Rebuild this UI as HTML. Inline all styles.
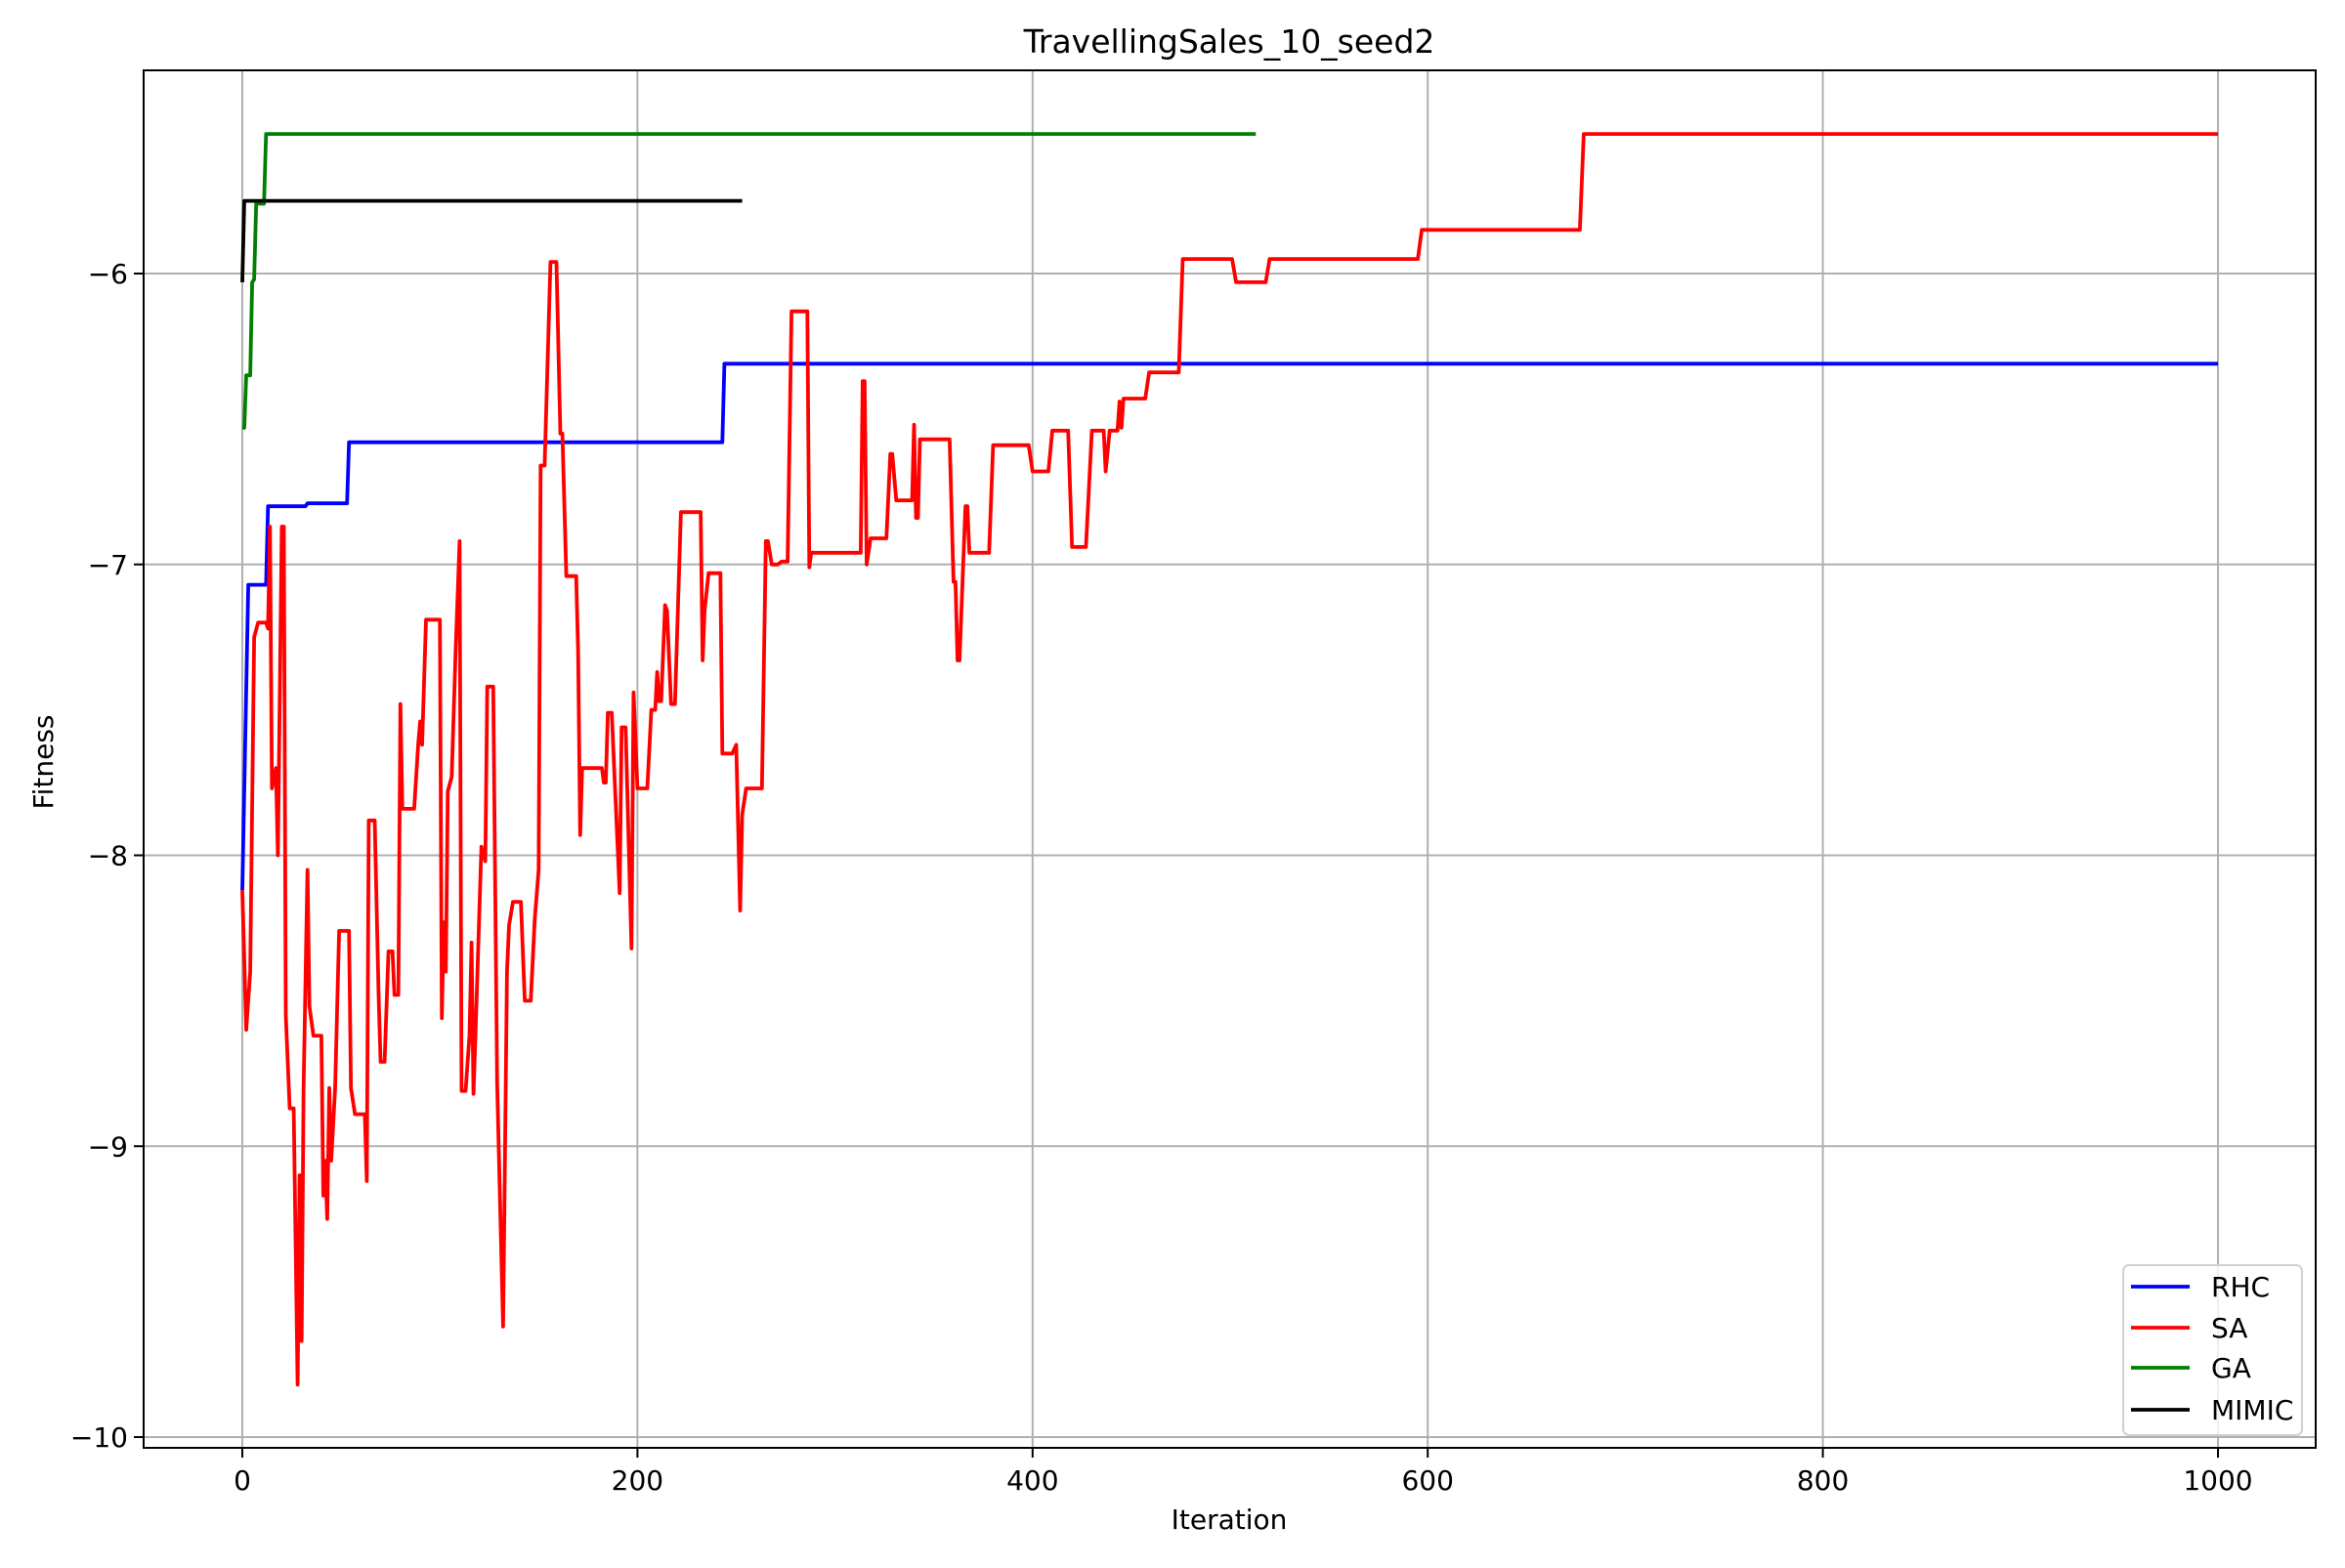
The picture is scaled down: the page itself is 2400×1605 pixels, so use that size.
<!DOCTYPE html>
<html><head><meta charset="utf-8"><style>
html,body{margin:0;padding:0;background:#fff}
svg text{font-family:"DejaVu Sans","Liberation Sans",sans-serif;fill:#000}
</style></head><body>
<svg id="chart" width="2400" height="1600" viewBox="0 0 2400 1600" xmlns="http://www.w3.org/2000/svg">
<rect width="2400" height="1600" fill="#fff"/>
<g id="grid"></g>
<g id="series"></g>
<g id="axes"></g>
<text x="1258" y="54" font-size="33" text-anchor="middle">TravellingSales_10_seed2</text>
<text x="1258" y="1565" font-size="28" text-anchor="middle">Iteration</text>
<text transform="translate(54,780) rotate(-90)" font-size="28" text-anchor="middle">Fitness</text>
<g id="legend"></g>
</svg>
<script>
const xTicks=[0,200,400,600,800,1000];
const yTicks=[-10,-9,-8,-7,-6];
const yTickLabels=["\u221210","\u22129","\u22128","\u22127","\u22126"];
const seriesNames=["RHC","SA","GA","MIMIC"];
const seriesColors=["#0000ff","#ff0000","#008000","#000000"];
const rhcIter=[0,3,12,13,32,33,53,54,243,244,1000];
const rhcVal=[-8.12,-7.07,-7.07,-6.80,-6.80,-6.79,-6.79,-6.58,-6.58,-6.31,-6.31];
const gaIter=[0,1,2,4,5,6,7,11,12,513];
const gaVal=[-6.53,-6.53,-6.35,-6.35,-6.03,-6.02,-5.76,-5.76,-5.52,-5.52];
const mimicIter=[0,1,253];
const mimicVal=[-6.03,-5.75,-5.75];
const saIter=[0,2,4,6,8,12,13,14,15,17,18,20,21,22,24,26,28,29,30,31,33,34,36,40,41,42,43,44,45,47,49,54,55,57,62,63,64,67,69,70,72,74,76,77,79,80,81,87,89,90,91,93,100,101,102,103,104,106,108,110,111,113,115,116,117,118,121,123,124,127,129,132,134,135,137,141,143,146,148,150,151,153,156,159,161,162,164,169,170,171,172,182,183,184,185,187,191,192,194,197,198,200,205,207,209,210,211,212,214,215,217,219,222,232,233,234,236,242,243,248,250,252,253,255,263,265,266,268,271,273,276,278,286,287,288,313,314,315,316,318,326,328,329,331,339,340,341,342,343,358,360,361,362,363,366,367,368,378,380,398,400,408,410,418,420,427,430,436,437,439,443,444,445,446,457,459,474,476,501,503,518,520,595,597,677,679,1000];
const saVal=[-8.12,-8.60,-8.40,-7.25,-7.20,-7.20,-7.22,-6.87,-7.77,-7.70,-8.00,-6.87,-6.87,-8.55,-8.87,-8.87,-9.82,-9.10,-9.67,-8.80,-8.05,-8.52,-8.62,-8.62,-9.17,-9.05,-9.25,-8.80,-9.05,-8.80,-8.26,-8.26,-8.80,-8.89,-8.89,-9.12,-7.88,-7.88,-8.48,-8.71,-8.71,-8.33,-8.33,-8.48,-8.48,-7.48,-7.84,-7.84,-7.62,-7.54,-7.62,-7.19,-7.19,-8.56,-8.23,-8.40,-7.78,-7.73,-7.29,-6.92,-8.81,-8.81,-8.62,-8.30,-8.82,-8.62,-7.97,-8.02,-7.42,-7.42,-8.78,-9.62,-8.40,-8.24,-8.16,-8.16,-8.50,-8.50,-8.22,-8.05,-6.66,-6.66,-5.96,-5.96,-6.55,-6.55,-7.04,-7.04,-7.30,-7.93,-7.70,-7.70,-7.75,-7.75,-7.51,-7.51,-8.13,-7.56,-7.56,-8.32,-7.44,-7.77,-7.77,-7.50,-7.50,-7.37,-7.47,-7.47,-7.14,-7.16,-7.48,-7.48,-6.82,-6.82,-7.33,-7.16,-7.03,-7.03,-7.65,-7.65,-7.62,-8.19,-7.86,-7.77,-7.77,-6.92,-6.92,-7.00,-7.00,-6.99,-6.99,-6.13,-6.13,-7.01,-6.96,-6.96,-6.37,-6.37,-7.00,-6.91,-6.91,-6.62,-6.62,-6.78,-6.78,-6.52,-6.84,-6.84,-6.57,-6.57,-7.06,-7.06,-7.33,-7.33,-6.80,-6.80,-6.96,-6.96,-6.59,-6.59,-6.68,-6.68,-6.54,-6.54,-6.94,-6.94,-6.54,-6.54,-6.68,-6.54,-6.54,-6.44,-6.53,-6.43,-6.43,-6.34,-6.34,-5.95,-5.95,-6.03,-6.03,-5.95,-5.95,-5.85,-5.85,-5.52,-5.52];

const NS="http://www.w3.org/2000/svg";
const L=147,R=2370,T=72,B=1482;
function xs(v){return 248+v*(2270-248)/1000;}
function ys(v){return 280+(-6-v)*(1471-280)/4;}
function mk(tag,attrs,parent){const e=document.createElementNS(NS,tag);for(const k in attrs)e.setAttribute(k,attrs[k]);parent.appendChild(e);return e;}
const grid=document.getElementById('grid'),axes=document.getElementById('axes'),ser=document.getElementById('series'),leg=document.getElementById('legend');
xTicks.forEach(t=>{
  const g=mk('line',{x1:xs(t),x2:xs(t),y1:T,y2:B,stroke:'#b0b0b0','stroke-width':2},grid);
  
  
  mk('line',{x1:xs(t),x2:xs(t),y1:B,y2:B+10,stroke:'#000','stroke-width':2},axes);
  const tx=mk('text',{x:xs(t),y:B+43,'font-size':28,'text-anchor':'middle'},axes);
  tx.textContent=t;
  
  
});
yTicks.forEach((t,i)=>{
  const g=mk('line',{x1:L,x2:R,y1:ys(t),y2:ys(t),stroke:'#b0b0b0','stroke-width':2},grid);
  
  
  mk('line',{x1:L-10,x2:L,y1:ys(t),y2:ys(t),stroke:'#000','stroke-width':2},axes);
  const tx=mk('text',{x:L-16,y:ys(t)+10,'font-size':28,'text-anchor':'end'},axes);
  tx.textContent=yTickLabels[i];
  
  
});
const frame=mk('rect',{x:L,y:T,width:R-L,height:B-T,fill:'none',stroke:'#000','stroke-width':2},axes);


const data=[[rhcIter,rhcVal],[saIter,saVal],[gaIter,gaVal],[mimicIter,mimicVal]];
[0,1,2,3].forEach(i=>{
  const [it,vl]=data[i];
  const pts=it.map((x,j)=>xs(x).toFixed(1)+','+ys(vl[j]).toFixed(1)).join(' ');
  const p=mk('polyline',{points:pts,fill:'none',stroke:seriesColors[i],'stroke-width':3.8,'stroke-linejoin':'round'},ser);
  
  
});
mk('rect',{x:2173,y:1295,width:183,height:174,rx:6,fill:'#fff','fill-opacity':0.8,stroke:'#d0d0d0','stroke-width':2},leg);
const ly=[1317,1359,1400,1443];
seriesNames.forEach((n,i)=>{
  const e=mk('g',{},leg);
  
  
  mk('line',{x1:2181,x2:2241,y1:ly[i],y2:ly[i],stroke:seriesColors[i],'stroke-width':3.8},e);
  const t=mk('text',{x:2263,y:ly[i]+10,'font-size':28},e);
  t.textContent=n;
});
</script>
</body></html>
